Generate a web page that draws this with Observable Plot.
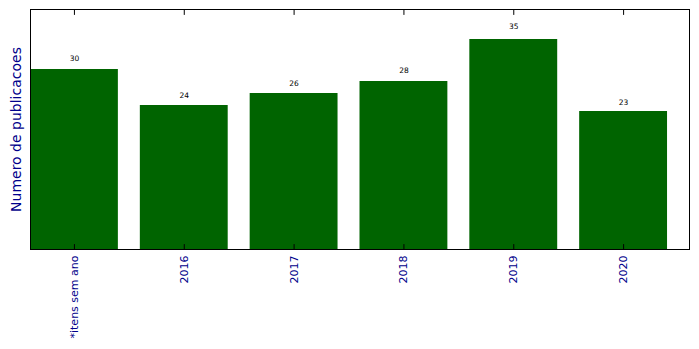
<!DOCTYPE html>
<html>
<head>
<meta charset="utf-8">
<script src="https://cdn.jsdelivr.net/npm/d3@7"></script>
<script src="https://cdn.jsdelivr.net/npm/@observablehq/plot@0.6"></script>
<style>
  html, body { margin: 0; padding: 0; background: #fff; }
  svg { display: block; }
</style>
</head>
<body>
<div id="chart"></div>
<script>
const categories = ["*itens sem ano", "2016", "2017", "2018", "2019", "2020"];
const counts = [30, 24, 26, 28, 35, 23];
const yLabel = "Numero de publicacoes";

const data = categories.map((c, i) => ({i, c, v: counts[i]}));
const barHalf = 0.4;
const tickShape = {draw(ctx, l) { ctx.moveTo(0, 0); ctx.lineTo(0, -l); }};

const chart = Plot.plot({
  width: 699,
  height: 349,
  marginLeft: 30,
  marginRight: 10,
  marginTop: 9,
  marginBottom: 100,
  style: {fontFamily: "DejaVu Sans", background: "#fff", overflow: "visible"},
  x: {domain: [-0.4, 5.6], axis: null},
  y: {domain: [0, 40], axis: null},
  marks: [
    Plot.rectY(data, {x1: d => d.i - barHalf, x2: d => d.i + barHalf, y1: 0, y2: "v", fill: "#006400"}),
    Plot.text(data, {x: "i", y: d => d.v * 1.05, text: d => String(d.v), lineAnchor: "bottom", fontSize: 7.5, fill: "#000"}),
    Plot.frame({stroke: "#000", strokeWidth: 1}),
    Plot.vector(data, {x: "i", frameAnchor: "bottom", length: 5, rotate: 0, anchor: "start", shape: tickShape, stroke: "#000", strokeWidth: 1}),
    Plot.vector(data, {x: "i", frameAnchor: "top", length: 5, rotate: 180, anchor: "start", shape: tickShape, stroke: "#000", strokeWidth: 1}),
    Plot.text(data, {x: "i", frameAnchor: "bottom", text: "c", rotate: -90, textAnchor: "end", lineAnchor: "middle", dy: 6, fontSize: 11, fill: "#00008B"}),
    Plot.text([yLabel], {frameAnchor: "left", text: d => d, rotate: -90, textAnchor: "middle", lineAnchor: "middle", dx: -14, fontSize: 14, fill: "#00008B"})
  ]
});
document.getElementById("chart").appendChild(chart);
</script>
</body>
</html>
